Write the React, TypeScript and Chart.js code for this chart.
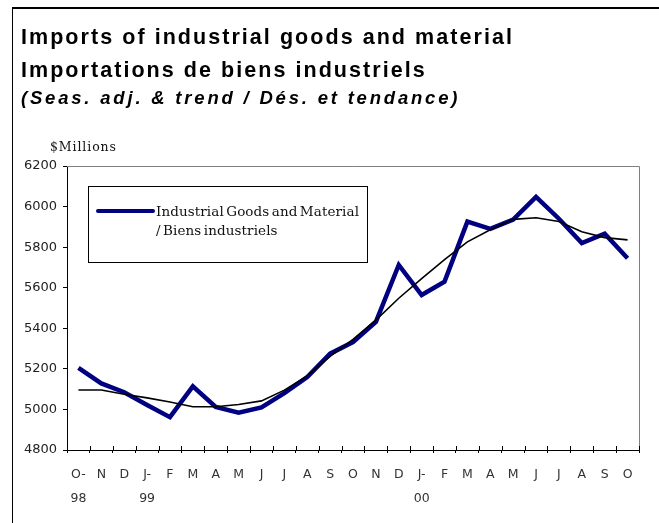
import React, { useEffect, useRef } from 'react';
import { Chart, registerables } from 'chart.js';

Chart.register(...registerables);

const categories: (string | string[])[] = [
  ['O-', '98'], 'N', 'D', ['J-', '99'], 'F', 'M', 'A', 'M', 'J', 'J', 'A', 'S',
  'O', 'N', 'D', ['J-', '00'], 'F', 'M', 'A', 'M', 'J', 'J', 'A', 'S', 'O',
];
const seasAdj = [5205, 5128, 5085, 5022, 4962, 5114, 5012, 4984, 5010, 5080, 5160, 5275, 5332, 5432, 5712, 5564, 5630, 5926, 5890, 5936, 6048, 5940, 5820, 5866, 5745];
const trend = [5096, 5096, 5075, 5057, 5037, 5013, 5013, 5024, 5042, 5095, 5165, 5262, 5345, 5440, 5548, 5645, 5738, 5826, 5886, 5937, 5945, 5926, 5876, 5847, 5836];
const yMin = 4800;
const yMax = 6200;
const yStep = 200;
const titleLines = ['Imports of industrial goods and material', 'Importations de biens industriels'];
const subtitleText = '(Seas. adj. & trend / Dés. et tendance)';
const unitLabel = '$Millions';
const legendLines = ['Industrial Goods and Material', '/ Biens industriels'];

const decorPlugin = {
  id: 'decor',
  beforeDraw(chart: any) {
    const ctx = chart.ctx;
    ctx.save();
    ctx.fillStyle = '#ffffff';
    ctx.fillRect(0, 0, chart.width, chart.height);
    // outer frame
    ctx.fillStyle = '#000';
    ctx.fillRect(12, 7, chart.width - 12, 2);
    ctx.fillRect(12, 7, 1, chart.height - 7);
    // titles
    ctx.textBaseline = 'alphabetic';
    ctx.textAlign = 'left';
    ctx.fillStyle = '#000';
    (ctx as any).letterSpacing = '2.05px';
    ctx.font = 'bold 21.5px "Liberation Sans", Arial, sans-serif';
    ctx.fillText(titleLines[0], 21, 44);
    ctx.fillText(titleLines[1], 21, 77);
    (ctx as any).letterSpacing = '2.8px';
    ctx.font = 'italic bold 18.5px "Liberation Sans", Arial, sans-serif';
    ctx.fillText(subtitleText, 21, 104);
    (ctx as any).letterSpacing = '0.9px';
    ctx.font = '12.5px "DejaVu Serif", serif';
    ctx.fillStyle = '#111';
    ctx.fillText(unitLabel, 50, 151);
    (ctx as any).letterSpacing = '0px';
    ctx.restore();
  },
  afterDraw(chart: any) {
    const ctx = chart.ctx;
    const a = chart.chartArea;
    const xs = chart.scales.x;
    ctx.save();
    // plot border (top and right)
    ctx.strokeStyle = '#808080';
    ctx.lineWidth = 1;
    ctx.beginPath();
    ctx.moveTo(a.left, a.top + 0.5);
    ctx.lineTo(a.right + 0.5, a.top + 0.5);
    ctx.lineTo(a.right + 0.5, a.bottom);
    ctx.stroke();
    // upward parts of x ticks
    ctx.strokeStyle = '#000';
    ctx.beginPath();
    for (let i = 0; i <= categories.length; i++) {
      const x = Math.round(xs.getPixelForValue(i - 0.5)) + 0.5;
      ctx.moveTo(x, a.bottom);
      ctx.lineTo(x, a.bottom - 4);
    }
    ctx.stroke();
    // legend
    const bx = 88, by = 186, bw = 279, bh = 76;
    ctx.fillStyle = '#fff';
    ctx.fillRect(bx, by, bw, bh);
    ctx.strokeStyle = '#000';
    ctx.lineWidth = 1;
    ctx.strokeRect(bx + 0.5, by + 0.5, bw, bh);
    ctx.strokeStyle = '#000080';
    ctx.lineWidth = 4;
    ctx.lineCap = 'round';
    ctx.beginPath();
    ctx.moveTo(98, 211);
    ctx.lineTo(153, 211);
    ctx.stroke();
    ctx.fillStyle = '#111';
    ctx.textAlign = 'left';
    ctx.textBaseline = 'alphabetic';
    ctx.font = '13.5px "DejaVu Serif", serif';
    (ctx as any).letterSpacing = '0.1px';
    (ctx as any).wordSpacing = '-2px';
    ctx.fillText(legendLines[0], 156, 216);
    ctx.fillText(legendLines[1], 156, 235);
    (ctx as any).letterSpacing = '0px';
    (ctx as any).wordSpacing = '0px';
    ctx.restore();
  },
};

export default function App() {
  const ref = useRef<HTMLCanvasElement>(null);
  useEffect(() => {
    if (!ref.current) return;
    const chart = new Chart(ref.current, {
      type: 'line',
      data: {
        labels: categories as any,
        datasets: [
          {
            label: 'Trend / Tendance',
            data: trend,
            borderColor: '#000',
            borderWidth: 1.6,
            pointRadius: 0,
            tension: 0,
            order: 0,
          },
          {
            label: legendLines.join(' '),
            data: seasAdj,
            borderColor: '#000080',
            borderWidth: 4.5,
            pointRadius: 0,
            tension: 0,
            order: 1,
          },
        ],
      },
      plugins: [decorPlugin],
      options: {
        responsive: false,
        animation: false,
        devicePixelRatio: 1,
        layout: { padding: { top: 166, right: 20, left: 0, bottom: 0 } },
        plugins: {
          legend: { display: false },
          title: { display: false },
          tooltip: { enabled: false },
        },
        scales: {
          x: {
            type: 'category',
            offset: true,
            afterFit(scale: any) { scale.height = 73; },
            border: { display: true, color: '#000', width: 1 },
            grid: { display: true, drawOnChartArea: false, drawTicks: true, tickLength: 3, color: '#000', offset: true },
            ticks: {
              autoSkip: false,
              maxRotation: 0,
              minRotation: 0,
              padding: 10,
              color: '#333',
              font: { family: '"DejaVu Sans", sans-serif', size: 12.5, lineHeight: 1.9 },
            },
          },
          y: {
            min: yMin,
            max: yMax,
            afterFit(scale: any) { scale.width = 67; },
            border: { display: true, color: '#000', width: 1 },
            grid: { display: true, drawOnChartArea: false, drawTicks: true, tickLength: 4, color: '#000' },
            ticks: {
              stepSize: yStep,
              padding: 6,
              color: '#222',
              font: { family: '"DejaVu Sans", sans-serif', size: 13 },
              callback: (v: any) => String(v),
            },
          },
        },
      },
    });
    return () => chart.destroy();
  }, []);
  return (
    <div style={{ position: 'fixed', left: 0, top: 0, width: 659, height: 523 }}>
      <canvas ref={ref} width={659} height={523} style={{ width: 659, height: 523, display: 'block' }} />
    </div>
  );
}
